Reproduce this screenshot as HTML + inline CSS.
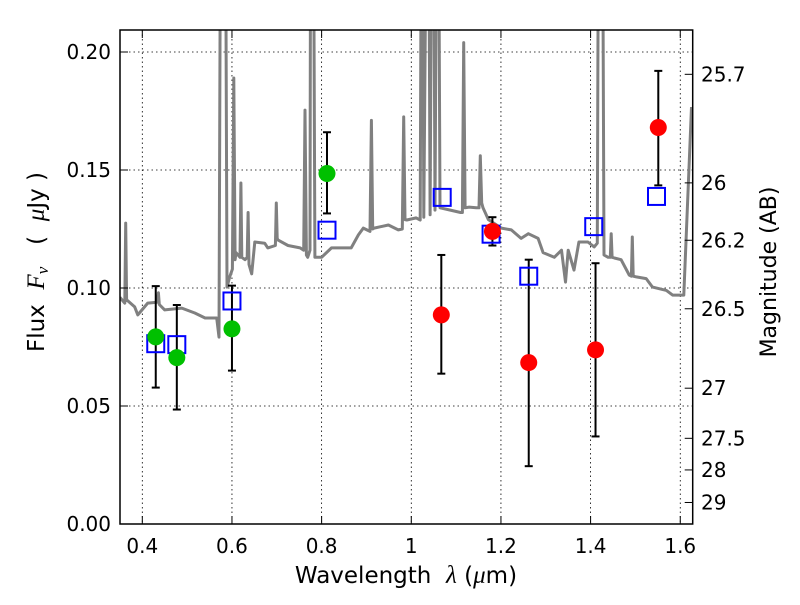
<!DOCTYPE html>
<html><head><meta charset="utf-8"><style>
html,body{margin:0;padding:0;background:#fff;}
svg text{font-family:"DejaVu Sans","Liberation Sans",sans-serif;fill:#000;}
.pre{white-space:pre;}
</style></head><body>
<svg id="chart" width="800" height="600" viewBox="0 0 800 600" xmlns="http://www.w3.org/2000/svg">
<defs><clipPath id="clip"><rect x="120" y="30" width="572.7" height="494"/></clipPath></defs>
<rect x="0" y="0" width="800" height="600" fill="#fff"/>
<g id="grid"></g>
<g id="spec" clip-path="url(#clip)"></g>
<g id="marks" clip-path="url(#clip)"></g>
<rect x="120" y="30" width="572.7" height="494" fill="none" stroke="#000" stroke-width="1.5"/>
<g id="axes"></g>
<text class="pre" x="406" y="583" font-size="23" text-anchor="middle">Wavelength  <tspan font-family="Liberation Serif" font-style="italic" font-size="25">λ</tspan> (<tspan font-family="Liberation Serif" font-style="italic" font-size="25">μ</tspan>m)</text>
<text class="pre" transform="translate(44,262) rotate(-90)" font-size="23" text-anchor="middle">Flux  <tspan font-family="Liberation Serif" font-style="italic" font-size="25">F<tspan font-size="17" dy="4">ν</tspan></tspan><tspan dy="-4">   (  </tspan><tspan font-family="Liberation Serif" font-style="italic" font-size="25">μ</tspan>Jy )</text>
<text transform="translate(776,272) rotate(-90)" font-size="22" text-anchor="middle">Magnitude (AB)</text>
</svg>
<script>
const xTicks=[0.4,0.6,0.8,1.0,1.2,1.4,1.6];
const xTickLabels=["0.4","0.6","0.8","1","1.2","1.4","1.6"];
const yTicks=[0,0.05,0.10,0.15,0.20];
const yTickLabels=["0.00","0.05","0.10","0.15","0.20"];
const magTicks=[25.7,26,26.2,26.5,27,27.5,28,29];
const magTickLabels=["25.7","26","26.2","26.5","27","27.5","28","29"];
const specWave=[0.350,0.361,0.363,0.365,0.383,0.390,0.412,0.433,0.436,0.438,0.450,0.488,0.517,0.540,0.566,0.571,0.576,0.580,0.584,0.589,0.595,0.601,0.604,0.607,0.609,0.618,0.620,0.622,0.629,0.634,0.636,0.638,0.644,0.651,0.673,0.680,0.697,0.699,0.701,0.703,0.725,0.752,0.760,0.763,0.766,0.769,0.774,0.776,0.780,0.785,0.800,0.822,0.866,0.882,0.893,0.908,0.911,0.914,0.917,0.949,0.971,0.980,0.983,0.986,0.990,1.011,1.020,1.024,1.028,1.037,1.042,1.048,1.053,1.059,1.064,1.087,1.110,1.114,1.117,1.120,1.129,1.145,1.151,1.154,1.157,1.160,1.172,1.201,1.223,1.245,1.261,1.283,1.294,1.319,1.335,1.344,1.350,1.363,1.374,1.394,1.408,1.415,1.419,1.425,1.430,1.439,1.444,1.446,1.448,1.453,1.468,1.486,1.491,1.493,1.495,1.502,1.524,1.538,1.569,1.583,1.603,1.608,1.625];
const specFlux=[0.096,0.0936,0.1275,0.095,0.092,0.0886,0.0936,0.094,0.098,0.093,0.0907,0.0915,0.0894,0.0873,0.0873,0.0792,0.35,0.35,0.35,0.1004,0.1047,0.108,0.189,0.112,0.115,0.113,0.1445,0.113,0.112,0.113,0.132,0.11,0.106,0.1195,0.119,0.117,0.118,0.136,0.121,0.1203,0.118,0.117,0.116,0.1754,0.114,0.113,0.116,0.35,0.35,0.113,0.113,0.117,0.117,0.1225,0.1254,0.124,0.171,0.125,0.1254,0.1267,0.1246,0.125,0.1725,0.129,0.1288,0.1297,0.1288,0.35,0.13,0.35,0.131,0.35,0.133,0.35,0.134,0.133,0.132,0.132,0.204,0.134,0.1343,0.134,0.134,0.156,0.136,0.134,0.129,0.1254,0.1246,0.121,0.123,0.121,0.115,0.113,0.116,0.1025,0.116,0.1076,0.1195,0.1195,0.1174,0.119,0.35,0.35,0.114,0.113,0.113,0.123,0.113,0.1127,0.112,0.1055,0.105,0.1216,0.105,0.1047,0.104,0.1004,0.099,0.097,0.097,0.097,0.1767];
const greenWave=[0.430,0.477,0.600,0.812];
const greenFlux=[0.0793,0.0705,0.0827,0.1485];
const greenLo=[0.0578,0.0485,0.0650,0.1316];
const greenHi=[0.1008,0.0928,0.1010,0.1660];
const redWave=[1.067,1.181,1.262,1.411,1.551];
const redFlux=[0.0886,0.124,0.0684,0.0738,0.168];
const redLo=[0.0637,0.118,0.0245,0.0371,0.1435];
const redHi=[0.114,0.130,0.112,0.1105,0.192];
const modelWave=[0.430,0.477,0.600,0.812,1.069,1.178,1.262,1.407,1.547];
const modelFlux=[0.0764,0.0760,0.0945,0.1245,0.1384,0.1228,0.105,0.126,0.1388];

const NS="http://www.w3.org/2000/svg";
const X=v=>142.3+(v-0.4)*448.3;
const Y=v=>524-v*2360;
const magToFlux=m=>Math.pow(10,(23.9-m)/2.5);
function mk(tag,attrs,parent){const e=document.createElementNS(NS,tag);for(const k in attrs)e.setAttribute(k,attrs[k]);parent.appendChild(e);return e;}
const grid=document.getElementById('grid'),axes=document.getElementById('axes'),spec=document.getElementById('spec'),marks=document.getElementById('marks');
xTicks.forEach((t,i)=>{const x=X(t);
 const g=mk('line',{x1:x,x2:x,y1:30,y2:524,stroke:'#000','stroke-width':0.8,'stroke-dasharray':'1.5,3'},grid);
 
 
 const a=mk('line',{x1:x,x2:x,y1:524,y2:516,stroke:'#000','stroke-width':1},axes);
 
 
 const b=mk('line',{x1:x,x2:x,y1:30,y2:38,stroke:'#000','stroke-width':1},axes);
 
 
 const tx=mk('text',{x:x,y:553,'font-size':20,'text-anchor':'middle'},axes);tx.textContent=xTickLabels[i];
 
 
});
yTicks.forEach((t,i)=>{const y=Y(t);
 const g=mk('line',{x1:120,x2:692.7,y1:y,y2:y,stroke:'#000','stroke-width':0.8,'stroke-dasharray':'1.5,3'},grid);
 
 
 const a=mk('line',{x1:120,x2:128,y1:y,y2:y,stroke:'#000','stroke-width':1},axes);
 
 
 const tx=mk('text',{x:111,y:y+7,'font-size':20,'text-anchor':'end'},axes);tx.textContent=yTickLabels[i];
 
 
});
magTicks.forEach((m,i)=>{const y=Y(magToFlux(m));
 const a=mk('line',{x1:684.7,x2:692.7,y1:y,y2:y,stroke:'#000','stroke-width':1},axes);
 
 
 const tx=mk('text',{x:701,y:y+7,'font-size':20,'text-anchor':'start'},axes);tx.textContent=magTickLabels[i];
 
 
});
const d=specWave.map((w,i)=>(i?'L':'M')+X(w).toFixed(1)+','+Y(specFlux[i]).toFixed(1)).join(' ');
const sp=mk('path',{d:d,fill:'none',stroke:'#808080','stroke-width':3,'stroke-linejoin':'round'},spec);


function errbar(w,lo,hi){const x=X(w);
 const l=mk('line',{x1:x,x2:x,y1:Y(lo),y2:Y(hi),stroke:'#000','stroke-width':2},marks);
 
 
 [lo,hi].forEach(v=>{const c=mk('line',{x1:x-4,x2:x+4,y1:Y(v),y2:Y(v),stroke:'#000','stroke-width':2},marks);
  
  });
}
greenWave.forEach((w,i)=>errbar(w,greenLo[i],greenHi[i]));
redWave.forEach((w,i)=>errbar(w,redLo[i],redHi[i]));
modelWave.forEach((w,i)=>{const r=mk('rect',{x:X(w)-8.5,y:Y(modelFlux[i])-8.5,width:17,height:17,fill:'none',stroke:'#0000ff','stroke-width':2},marks);
 
 });
greenWave.forEach((w,i)=>{const c=mk('circle',{cx:X(w),cy:Y(greenFlux[i]),r:8.5,fill:'#00c000'},marks);
 
 });
redWave.forEach((w,i)=>{const c=mk('circle',{cx:X(w),cy:Y(redFlux[i]),r:8.5,fill:'#ff0000'},marks);
 
 });
</script>
</body></html>
